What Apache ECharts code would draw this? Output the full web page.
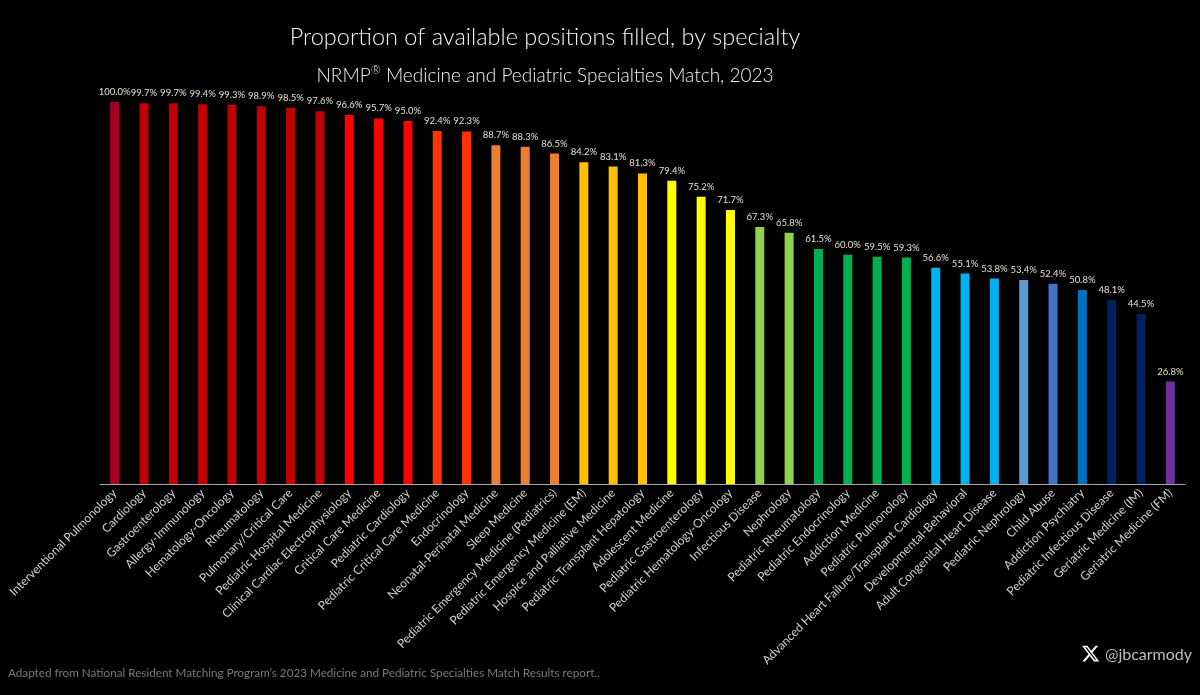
<!DOCTYPE html>
<html>
<head>
<meta charset="utf-8">
<script src="https://cdn.jsdelivr.net/npm/echarts@6/dist/echarts.min.js"></script>
<style>
html,body{margin:0;padding:0;background:#000;}
#chart{width:1200px;height:695px;}
</style>
</head>
<body>
<div id="chart"></div>
<script>
const categories = [
  "Interventional Pulmonology","Cardiology","Gastroenterology","Allergy-Immunology","Hematology-Oncology",
  "Rheumatology","Pulmonary/Critical Care","Pediatric Hospital Medicine","Clinical Cardiac Electrophysiology",
  "Critical Care Medicine","Pediatric Cardiology","Pediatric Critical Care Medicine","Endocrinology",
  "Neonatal-Perinatal Medicine","Sleep Medicine","Pediatric Emergency Medicine (Pediatrics)",
  "Pediatric Emergency Medicine (EM)","Hospice and Palliative Medicine","Pediatric Transplant Hepatology",
  "Adolescent Medicine","Pediatric Gastroenterology","Pediatric Hematology-Oncology","Infectious Disease",
  "Nephrology","Pediatric Rheumatology","Pediatric Endocrinology","Addiction Medicine","Pediatric Pulmonology",
  "Advanced Heart Failure/Transplant Cardiology","Developmental-Behavioral","Adult Congenital Heart Disease",
  "Pediatric Nephrology","Child Abuse","Addiction Psychiatry","Pediatric Infectious Disease",
  "Geriatric Medicine (IM)","Geriatric Medicine (FM)"
];
const filledPct = [
  100.0, 99.7, 99.7, 99.4, 99.3, 98.9, 98.5, 97.6, 96.6, 95.7, 95.0, 92.4, 92.3,
  88.7, 88.3, 86.5, 84.2, 83.1, 81.3, 79.4, 75.2, 71.7, 67.3, 65.8, 61.5, 60.0,
  59.5, 59.3, 56.6, 55.1, 53.8, 53.4, 52.4, 50.8, 48.1, 44.5, 26.8
];
const barColors = [
  "#A50021","#C00000","#C00000","#C00000","#C00000","#C00000","#C00000","#C00000",
  "#FF0000","#FF0000","#FF0000","#FF3300","#FF3300",
  "#ED7D31","#ED7D31","#ED7D31",
  "#FFC000","#FFC000","#FFC000",
  "#FFFF00","#FFFF00","#FFFF00",
  "#92D050","#92D050",
  "#00B050","#00B050","#00B050","#00B050",
  "#00B0F0","#00B0F0","#00B0F0",
  "#5B9BD5","#4472C4","#0070C0","#002060","#002060","#7030A0"
];
const titleText = "Proportion of available positions filled, by specialty";
const sourceText = "Adapted from National Resident Matching Program\u2019s 2023 Medicine and Pediatric Specialties Match Results report..";
const FONT = "Lato, 'Open Sans', sans-serif";

// X logo outline (24x24 design grid)
const logoOuter = [[18.244,2.25],[21.552,2.25],[14.325,10.51],[22.827,21.75],[16.17,21.75],[10.956,14.933],
  [4.99,21.75],[1.68,21.75],[9.41,12.915],[1.254,2.25],[8.08,2.25],[12.793,8.481]];
const logoHole = [[17.083,19.77],[18.916,19.77],[7.084,4.126],[5.117,4.126]];
const logoPt = p => [1081 + p[0] * 0.8, 644 + p[1] * 0.8];

const chart = echarts.init(document.getElementById('chart'), null, {renderer: 'canvas'});
chart.setOption({
  backgroundColor: '#000',
  animation: false,
  title: [
    {
      text: titleText,
      left: 540, top: 20, textAlign: 'center',
      textStyle: {color: '#f2f2f2', fontSize: 23.5, fontWeight: 300, fontFamily: FONT}
    },
    {
      text: '{a|NRMP}{s|\u00AE}{a| Medicine and Pediatric Specialties Match, 2023}',
      left: 540, top: 59, textAlign: 'center',
      textStyle: {
        color: '#f2f2f2', fontFamily: FONT,
        rich: {
          a: {color: '#f2f2f2', fontSize: 19, fontWeight: 300, fontFamily: FONT, lineHeight: 24},
          s: {color: '#f2f2f2', fontSize: 12, fontWeight: 300, fontFamily: FONT, lineHeight: 24, verticalAlign: 'top', padding: [0, 0, 10, 0]}
        }
      }
    }
  ],
  grid: {left: 100, right: 15, top: 102, bottom: 211, containLabel: false},
  xAxis: {
    type: 'category',
    data: categories,
    axisLine: {show: true, lineStyle: {color: '#a6a6a6', width: 1}},
    axisTick: {show: false},
    axisLabel: {
      interval: 0, rotate: 45, margin: 7,
      color: '#d0d0d0', fontSize: 12, fontFamily: FONT
    }
  },
  yAxis: {
    type: 'value', min: 0, max: 100, show: false,
    splitLine: {show: false}
  },
  series: [{
    type: 'bar',
    data: filledPct,
    barWidth: 9,
    itemStyle: {color: p => barColors[p.dataIndex]},
    label: {
      show: true, position: 'top', distance: 5,
      formatter: p => p.value.toFixed(1) + '%',
      color: '#e6dfd0', fontSize: 9.5, fontFamily: FONT
    }
  }],
  graphic: [
    {
      type: 'text',
      style: {x: 8, y: 673, text: sourceText, fill: '#7a7a7a', fontSize: 11.7, fontFamily: FONT,
              textVerticalAlign: 'middle', verticalAlign: 'middle'}
    },
    {
      type: 'polygon',
      shape: {points: logoOuter.map(logoPt)},
      style: {fill: '#ffffff'}
    },
    {
      type: 'polygon',
      shape: {points: logoHole.map(logoPt)},
      style: {fill: '#000000'}
    },
    {
      type: 'text',
      style: {x: 1105, y: 655, text: '@jbcarmody', fill: '#bfbfbf', fontSize: 16, fontFamily: FONT,
              textVerticalAlign: 'middle', verticalAlign: 'middle'}
    }
  ]
});
</script>
</body>
</html>
